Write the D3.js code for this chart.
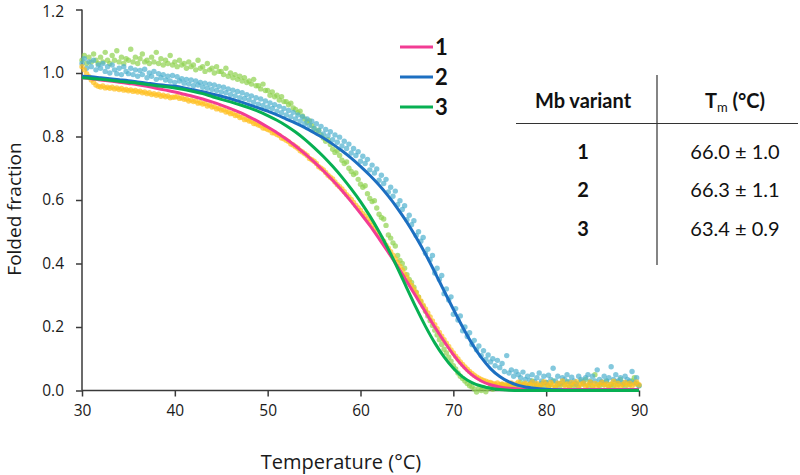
<!DOCTYPE html>
<html>
<head>
<meta charset="utf-8">
<script src="https://cdn.jsdelivr.net/npm/d3@7"></script>
<style>
  html, body { margin: 0; padding: 0; background: #fff; }
  svg { display: block; font-family: "Open Sans", sans-serif; }
</style>
</head>
<body>
<svg id="chart" width="800" height="475"></svg>
<script>
// ---------- data ----------
const xTicks = [30, 40, 50, 60, 70, 80, 90];
const yTicks = [0.0, 0.2, 0.4, 0.6, 0.8, 1.0, 1.2];

// measured points, temperatures every 0.25 °C from 30 to 90 (one row = 5 °C)
const scatterStart = 30, scatterStep = 0.25;
const points1 = [
  1.02,1.01,0.998,0.988, 0.978,0.97,0.962,0.958, 0.956,0.959,0.953,0.955, 0.952,0.955,0.95,0.953, 0.948,0.951,0.946,0.948,
  0.944,0.947,0.942,0.945, 0.94,0.943,0.938,0.94, 0.935,0.938,0.932,0.935, 0.93,0.933,0.927,0.93, 0.925,0.928,0.922,0.924,
  0.924,0.926,0.92,0.922, 0.917,0.918,0.912,0.915, 0.91,0.912,0.905,0.907, 0.902,0.904,0.896,0.899, 0.893,0.894,0.887,0.889,
  0.883,0.884,0.877,0.878, 0.872,0.873,0.866,0.867, 0.86,0.861,0.853,0.854, 0.849,0.848,0.841,0.84, 0.836,0.834,0.827,0.826,
  0.822,0.82,0.812,0.811, 0.806,0.803,0.795,0.793, 0.788,0.784,0.776,0.773, 0.768,0.763,0.755,0.751, 0.746,0.74,0.731,0.727,
  0.722,0.715,0.705,0.7, 0.695,0.687,0.678,0.672, 0.666,0.657,0.648,0.642, 0.635,0.626,0.617,0.61, 0.602,0.592,0.583,0.575,
  0.567,0.557,0.549,0.54, 0.531,0.52,0.511,0.5, 0.49,0.479,0.47,0.458, 0.448,0.437,0.426,0.414, 0.403,0.391,0.38,0.367,
  0.356,0.343,0.331,0.318, 0.307,0.294,0.282,0.269, 0.257,0.244,0.232,0.219, 0.207,0.195,0.183,0.171, 0.16,0.149,0.139,0.128,
  0.118,0.108,0.099,0.09, 0.082,0.074,0.067,0.06, 0.054,0.048,0.043,0.039, 0.035,0.032,0.029,0.026, 0.025,0.022,0.02,0.024,
  0.018,0.021,0.016,0.02, 0.017,0.024,0.014,0.021, 0.026,0.015,0.019,0.023, 0.012,0.02,0.027,0.016, 0.022,0.013,0.018,0.028,
  0.02,0.014,0.025,0.017, 0.011,0.023,0.019,0.03, 0.016,0.021,0.012,0.025, 0.019,0.028,0.014,0.02, 0.024,0.013,0.018,0.027,
  0.015,0.022,0.011,0.019, 0.026,0.017,0.021,0.013, 0.02,0.029,0.016,0.022, 0.012,0.019,0.025,0.017, 0.023,0.014,0.02,0.027,
  0.018];
const points2 = [
  1.03,1.045,1.015,1.035, 1.02,1.04,1.01,1.025, 1.015,1.03,1.005,1.02, 1.0,1.025,1.01,0.998, 1.015,0.995,1.02,1.005,
  0.998,1.015,0.995,1.01, 0.99,1.008,0.995,1.012, 0.985,1.0,0.99,1.005, 0.98,0.998,0.985,0.995, 0.978,0.99,0.975,0.992,
  0.97,0.988,0.975,0.982, 0.968,0.98,0.965,0.978, 0.96,0.975,0.962,0.97, 0.955,0.968,0.952,0.965, 0.948,0.962,0.945,0.958,
  0.94,0.955,0.938,0.95, 0.932,0.946,0.928,0.942, 0.922,0.938,0.92,0.932, 0.915,0.928,0.908,0.922, 0.902,0.918,0.898,0.912,
  0.892,0.906,0.888,0.9, 0.88,0.895,0.875,0.888, 0.868,0.882,0.862,0.876, 0.855,0.868,0.848,0.862, 0.84,0.855,0.835,0.848,
  0.825,0.84,0.818,0.832, 0.808,0.822,0.802,0.815, 0.79,0.805,0.782,0.798, 0.77,0.785,0.762,0.776, 0.748,0.762,0.74,0.752,
  0.722,0.738,0.715,0.728, 0.695,0.71,0.685,0.698, 0.662,0.678,0.652,0.665, 0.625,0.64,0.612,0.628, 0.585,0.598,0.57,0.582,
  0.538,0.552,0.522,0.535, 0.488,0.5,0.47,0.482, 0.432,0.445,0.412,0.425, 0.37,0.385,0.35,0.362, 0.305,0.32,0.285,0.295,
  0.24,0.258,0.222,0.235, 0.188,0.2,0.17,0.182, 0.145,0.158,0.128,0.14, 0.11,0.125,0.098,0.112, 0.09,0.1,0.078,0.095,
  0.072,0.085,0.06,0.11, 0.055,0.065,0.045,0.06, 0.05,0.04,0.058,0.035, 0.045,0.032,0.05,0.028, 0.04,0.055,0.03,0.045,
  0.025,0.048,0.035,0.07, 0.03,0.045,0.022,0.04, 0.035,0.05,0.028,0.042, 0.03,0.02,0.045,0.035, 0.025,0.04,0.05,0.03,
  0.045,0.03,0.065,0.035, 0.028,0.045,0.03,0.04, 0.075,0.035,0.05,0.03, 0.04,0.025,0.045,0.035, 0.03,0.06,0.025,0.04,
  0.015];
const points3 = [
  1.04,1.055,1.03,1.05, 1.035,1.06,1.04,1.03, 1.05,1.035,1.065,1.04, 1.03,1.055,1.04,1.07, 1.035,1.05,1.03,1.045,
  1.04,1.075,1.035,1.05, 1.03,1.045,1.06,1.035, 1.04,1.03,1.05,1.035, 1.065,1.03,1.045,1.025, 1.04,1.03,1.055,1.025,
  1.035,1.02,1.04,1.025, 1.03,1.015,1.035,1.02, 1.025,1.01,1.04,1.015, 1.02,1.005,1.03,1.01, 1.015,1.0,1.02,1.005,
  1.005,0.995,1.015,0.99, 1.0,0.985,0.995,0.98, 0.99,0.975,0.985,0.97, 0.975,0.965,0.98,0.96, 0.96,0.95,0.965,0.945,
  0.945,0.93,0.94,0.925, 0.93,0.915,0.925,0.91, 0.91,0.9,0.905,0.89, 0.885,0.875,0.88,0.865, 0.855,0.845,0.85,0.835,
  0.825,0.815,0.82,0.805, 0.795,0.785,0.79,0.775, 0.76,0.75,0.755,0.74, 0.725,0.715,0.72,0.7, 0.69,0.68,0.685,0.665,
  0.65,0.64,0.645,0.62, 0.605,0.595,0.598,0.575, 0.555,0.545,0.54,0.52, 0.49,0.48,0.465,0.455, 0.425,0.41,0.4,0.385,
  0.365,0.35,0.34,0.325, 0.31,0.295,0.28,0.265, 0.25,0.235,0.22,0.205, 0.19,0.175,0.16,0.145, 0.13,0.118,0.105,0.092,
  0.078,0.068,0.055,0.045, 0.038,0.03,0.022,0.015, 0.012,0.005,-0.005,0.008, 0.0,0.01,-0.004,0.006, 0.012,0.004,0.015,0.008,
  0.01,0.018,0.006,0.014, 0.02,0.01,0.016,0.008, 0.015,0.025,0.01,0.018, 0.012,0.02,0.03,0.014, 0.018,0.01,0.022,0.015,
  0.025,0.012,0.018,0.03, 0.01,0.02,0.015,0.025, 0.018,0.028,0.012,0.02, 0.015,0.022,0.01,0.03, 0.02,0.035,0.015,0.025,
  0.012,0.05,0.02,0.015, 0.025,0.018,0.03,0.012, 0.02,0.015,0.028,0.018, 0.035,0.02,0.012,0.025, 0.018,0.03,0.04,0.022,
  0.015];

// fitted curves, temperatures every 1 °C from 30 to 90
const fitStart = 30, fitStep = 1;
const fit1 = [0.985,0.982,0.978,0.975,0.971,0.967,0.963,0.958,0.952,0.946,
  0.94,0.933,0.926,0.918,0.909,0.899,0.888,0.876,0.862,0.847,
  0.83,0.812,0.792,0.77,0.746,0.72,0.692,0.662,0.63,0.595,
  0.558,0.52,0.478,0.435,0.39,0.343,0.295,0.247,0.2,0.155,
  0.113,0.077,0.049,0.03,0.018,0.011,0.007,0.005,0.004,0.003,
  0.003,0.003,0.003,0.003,0.003,0.003,0.003,0.003,0.003,0.003,0.003];
const fit2 = [0.99,0.988,0.985,0.982,0.979,0.976,0.972,0.968,0.964,0.961,
  0.958,0.953,0.947,0.941,0.934,0.927,0.919,0.91,0.9,0.89,
  0.88,0.868,0.855,0.842,0.828,0.812,0.795,0.776,0.755,0.732,
  0.706,0.678,0.647,0.612,0.573,0.53,0.482,0.43,0.373,0.314,
  0.256,0.2,0.148,0.104,0.069,0.044,0.027,0.016,0.01,0.006,
  0.004,0.002,0.001,0.001,0.001,0.001,0.001,0.001,0.001,0.001,0.001];
const fit3 = [0.985,0.983,0.98,0.977,0.974,0.971,0.968,0.964,0.96,0.957,
  0.953,0.948,0.942,0.935,0.926,0.917,0.909,0.9,0.89,0.879,
  0.866,0.851,0.834,0.814,0.791,0.765,0.737,0.706,0.672,0.635,
  0.595,0.55,0.5,0.445,0.385,0.322,0.26,0.202,0.15,0.106,
  0.07,0.043,0.025,0.014,0.007,0.003,0.001,0,0,0,
  0,0,0,0,0,0,0,0,0,0,0];

const variants = ["1", "2", "3"];
const tmValues = ["66.0 ± 1.0", "66.3 ± 1.1", "63.4 ± 0.9"];
const lineColors = ["#f23c94", "#1c6fc1", "#07b052"];
const dotColors = ["#ffbf1f", "#4fb0cf", "#8fd14f"];

// ---------- drawing ----------
const svg = d3.select("#chart");
const x = d3.scaleLinear().domain([30, 90]).range([82, 639]);
const y = d3.scaleLinear().domain([0, 1.2]).range([390.5, 9.5]);

const toPts = (arr, start, step) => arr.map((v, i) => [start + i * step, v]);

// axes
const yAxis = svg.append("g").attr("transform", "translate(82,0)")
  .call(d3.axisLeft(y).tickValues(yTicks).tickFormat(d3.format(".1f")).tickSize(6).tickPadding(12));
const xAxis = svg.append("g").attr("transform", "translate(0,390.5)")
  .call(d3.axisBottom(x).tickValues(xTicks).tickFormat(d3.format("d")).tickSize(6).tickPadding(8));
[yAxis, xAxis].forEach(g => {
  g.select(".domain").attr("stroke", "#3a3a3a").attr("stroke-width", 1.5);
  g.selectAll(".tick line").attr("stroke", "#3a3a3a").attr("stroke-width", 1.5);
  g.selectAll(".tick text").attr("fill", "#1a1a1a").style("font-size", "15.5px")
    .style("font-family", "'Open Sans', sans-serif");
});
// keep the top label inside the picture
yAxis.selectAll(".tick text").filter(d => d === 1.2).attr("dy", "0.45em");
yAxis.select(".domain").attr("d", `M0,${y(1.2)}V${y(0)}`);
xAxis.select(".domain").attr("d", `M${x(30)},0H${x(90)}`);

// scatter
const dotLayer = svg.append("g");
const allPoints = [points1, points2, points3];
[2, 1, 0].forEach(k => {
  dotLayer.append("g").selectAll("circle")
    .data(toPts(allPoints[k], scatterStart, scatterStep))
    .join("circle")
    .attr("cx", d => x(d[0]))
    .attr("cy", d => y(d[1]))
    .attr("r", 2.7)
    .attr("fill", dotColors[k])
    .attr("fill-opacity", 0.7);
});

// fitted lines
const line = d3.line().x(d => x(d[0])).y(d => y(d[1])).curve(d3.curveMonotoneX);
[fit1, fit2, fit3].forEach((f, k) => {
  svg.append("path")
    .attr("d", line(toPts(f, fitStart, fitStep)))
    .attr("fill", "none")
    .attr("stroke", lineColors[k])
    .attr("stroke-width", 3);
});

// axis titles
svg.append("text")
  .attr("x", 341).attr("y", 469)
  .attr("text-anchor", "middle")
  .style("font-size", "20px").attr("fill", "#1a1a1a")
  .text("Temperature (°C)");
svg.append("text")
  .attr("transform", "translate(21,209) rotate(-90)")
  .attr("text-anchor", "middle")
  .style("font-size", "19px").attr("fill", "#1a1a1a")
  .text("Folded fraction");

// legend
const legendY = [47, 77, 107];
variants.forEach((v, i) => {
  svg.append("line")
    .attr("x1", 400).attr("x2", 433)
    .attr("y1", legendY[i]).attr("y2", legendY[i])
    .attr("stroke", lineColors[i]).attr("stroke-width", 3);
  svg.append("text")
    .attr("x", 435).attr("y", legendY[i] + 8)
    .style("font-family", "Lato, sans-serif")
    .style("font-size", "22px").style("font-weight", "bold")
    .attr("fill", "#111")
    .text(v);
});

// table
svg.append("line").attr("x1", 657).attr("x2", 657).attr("y1", 75).attr("y2", 265)
  .attr("stroke", "#333").attr("stroke-width", 1.2);
svg.append("line").attr("x1", 516).attr("x2", 798).attr("y1", 123.5).attr("y2", 123.5)
  .attr("stroke", "#333").attr("stroke-width", 1.2);
const tFont = "Lato, sans-serif";
svg.append("text").attr("x", 583).attr("y", 108).attr("text-anchor", "middle")
  .style("font-family", tFont)
  .style("font-size", "20px").style("font-weight", "bold").attr("fill", "#111")
  .text("Mb variant");
const th = svg.append("text").attr("x", 735).attr("y", 108).attr("text-anchor", "middle")
  .style("font-family", tFont)
  .style("font-size", "20px").style("font-weight", "bold").attr("fill", "#111");
th.append("tspan").text("T");
th.append("tspan").attr("dy", 4).style("font-size", "13px").style("font-weight", "normal").text("m");
th.append("tspan").attr("dy", -4).text(" (°C)");
const rowY = [159, 197, 236];
variants.forEach((v, i) => {
  svg.append("text").attr("x", 583).attr("y", rowY[i]).attr("text-anchor", "middle")
    .style("font-family", tFont)
    .style("font-size", "20px").style("font-weight", "bold").attr("fill", "#111").text(v);
  svg.append("text").attr("x", 735).attr("y", rowY[i]).attr("text-anchor", "middle")
    .style("font-family", tFont)
    .style("font-size", "20px").attr("fill", "#111").text(tmValues[i]);
});
</script>
</body>
</html>
